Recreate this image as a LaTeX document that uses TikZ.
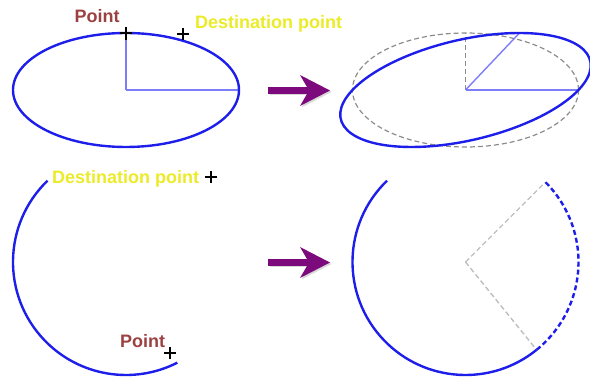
\documentclass[tikz,border=0pt]{standalone}
\usepackage{fontspec}
\setmainfont{Liberation Sans}
\usetikzlibrary{calc}
\definecolor{ellblue}{RGB}{30,30,235}
\definecolor{lineblue}{RGB}{125,125,250}
\definecolor{dgray}{RGB}{140,140,140}
\definecolor{lgray}{RGB}{190,190,190}
\definecolor{arrpurple}{RGB}{125,10,125}
\definecolor{ptbrown}{RGB}{155,65,65}
\definecolor{dyellow}{RGB}{235,235,40}
\begin{document}
\begin{tikzpicture}[x=1pt,y=-1pt,
  shape blue/.style={draw=ellblue,line width=2.4pt},
  radius line/.style={draw=lineblue,line width=1.4pt},
  guide/.style={draw=dgray,line width=1.2pt,dash pattern=on 5pt off 3pt},
  guide light/.style={draw=lgray,line width=1.4pt,dash pattern=on 5pt off 3pt},
  plusmark/.style={draw=black,line width=1.3pt},
  ptlabel/.style={text=ptbrown,font=\bfseries\fontsize{18}{20}\selectfont,inner sep=0pt},
  destlabel/.style={text=dyellow,font=\bfseries\fontsize{18}{20}\selectfont,inner sep=0pt},
  bigarrow shaft/.style={line width=6.5pt},
]
\useasboundingbox (0,0) rectangle (590,379);

% ---------- top left: ellipse ----------
\coordinate (c1) at (126,90);
\coordinate (c1top) at (126,33);
\coordinate (c1right) at (239,90);
\draw[radius line] (c1) -- (c1top);
\draw[radius line] (c1) -- (c1right);
\draw[shape blue] (c1) ellipse [x radius=113pt, y radius=57pt];
\coordinate (p1) at (126,33);
\coordinate (d1) at (183,34);
\draw[plusmark] ([yshift=6pt]p1) -- ([yshift=-7pt]p1) ([xshift=-6pt]p1) -- ([xshift=6pt]p1);
\draw[plusmark] ([yshift=6pt]d1) -- ([yshift=-6pt]d1) ([xshift=-6pt]d1) -- ([xshift=6pt]d1);
\node[ptlabel,anchor=base] (lp1) at (97,23) {Point};
\node[destlabel,anchor=base west] (ld1) at (195,28.5) {Destination point};

% ---------- arrows ----------
\foreach \yy/\nm in {90.5/a1,262.5/a2}{
  \coordinate (\nm s) at (268,\yy);
  \coordinate (\nm e) at (312,\yy);
  \coordinate (\nm t) at (330,\yy);
  \draw[lgray!60,bigarrow shaft] (269.5,\yy+1.5) -- (313.5,\yy+1.5);
  \fill[lgray!60] (331.5,\yy+1.5) -- (301.5,\yy-14) -- (310.5,\yy+1.5) -- (301.5,\yy+17) -- cycle;
  \draw[arrpurple,bigarrow shaft] (\nm s) -- (\nm e);
  \fill[arrpurple] (\nm t) -- (300,\yy-15.5) -- (309,\yy) -- (300,\yy+15.5) -- cycle;
}

% ---------- top right: transformed ellipse ----------
\coordinate (c2) at (465.5,90);
\coordinate (c2top) at (465.5,33);
\coordinate (c2right) at (579,90);
\coordinate (c2new) at (519.5,33);
\draw[guide] (c2) ellipse [x radius=113pt, y radius=57pt];
\draw[guide] (c2) -- (c2top);
\draw[radius line] (c2) -- (c2right);
\draw[radius line] (c2) -- (c2new);
\draw[shape blue,shift={(c2)},xslant=0.947] (0,0) ellipse [x radius=113pt, y radius=57pt];

% ---------- bottom left: arc ----------
\coordinate (c3) at (126,262);
\draw[shape blue] (c3) ++(134:113pt) arc[start angle=134,end angle=297,radius=113pt];
\coordinate (p3) at (170,353);
\coordinate (d3) at (211,177);
\draw[plusmark] ([yshift=6pt]p3) -- ([yshift=-6pt]p3) ([xshift=-6pt]p3) -- ([xshift=6pt]p3);
\draw[plusmark] ([yshift=6pt]d3) -- ([yshift=-6pt]d3) ([xshift=-6pt]d3) -- ([xshift=6pt]d3);
\node[ptlabel,anchor=base] (lp3) at (142.5,348) {Point};
\node[destlabel,anchor=base west] (ld3) at (52,183.5) {Destination point};

% ---------- bottom right: extended arc ----------
\coordinate (c4) at (465.5,262);
\coordinate (c4a) at ($(c4)+(45:113pt)$);
\coordinate (c4b) at ($(c4)+(-51:113pt)$);
\draw[guide light] (c4) -- (c4a);
\draw[guide light] (c4) -- (c4b);
\draw[shape blue] (c4) ++(134:113pt) arc[start angle=134,end angle=309,radius=113pt];
\draw[shape blue,dash pattern=on 5pt off 3pt] (c4) ++(-51:113pt) arc[start angle=-51,end angle=45,radius=113pt];
\end{tikzpicture}
\end{document}
